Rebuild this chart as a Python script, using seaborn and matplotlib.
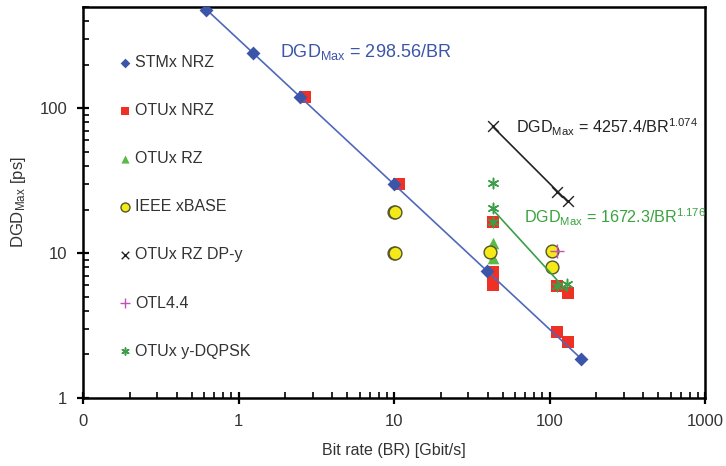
import numpy as np
import pandas as pd
import matplotlib
matplotlib.use("Agg")
import matplotlib.pyplot as plt
import seaborn as sns
from matplotlib.ticker import FixedLocator, FixedFormatter, LogLocator, NullFormatter

sns.set_theme(style="white")
plt.rcParams['font.family'] = ['Liberation Sans', 'DejaVu Sans']
plt.rcParams['mathtext.fontset'] = 'custom'
plt.rcParams['mathtext.rm'] = 'Liberation Sans'
plt.rcParams['mathtext.it'] = 'Liberation Sans'

# ---- data (Gbit/s, ps) ----
stm_br = [0.622, 1.244, 2.488, 9.953, 39.81, 160.0]
stm_dgd = [480, 240, 120, 30, 7.5, 1.87]

otu_nrz_br = [2.67, 10.7, 43.0, 43.0, 43.0, 43.0, 111.8, 131.0, 111.8, 131.0]
otu_nrz_dgd = [119, 30, 16.4, 7.4, 6.6, 6.0, 5.9, 5.3, 2.85, 2.43]

otu_rz_br = [43.0, 43.0]
otu_rz_dgd = [11.8, 9.3]

ieee_br = [9.95, 10.15, 9.95, 10.15, 41.25, 103.1, 103.1]
ieee_dgd = [19.2, 19.2, 10.0, 10.0, 10.2, 10.3, 8.0]

dpy_br = [43.0, 111.8, 131.0]
dpy_dgd = [76, 26.4, 22.8]

otl_br = [112.0]
otl_dgd = [10.3]

dqpsk_br = [43.0, 43.0, 43.0, 111.8, 130.0]
dqpsk_dgd = [30.4, 20.4, 16.4, 5.9, 6.1]

# fit coefficients: DGD = a / BR^b over [lo, hi]
fit_stm = (298.56, 1.0, 0.622, 160.0)
fit_dpy = (4257.4, 1.074, 43.0, 131.0)
fit_dqpsk = (1672.3, 1.176, 43.0, 130.0)

xtick_vals = [0.1, 1, 10, 100, 1000]
xtick_labels = ["0", "1", "10", "100", "1000"]
ytick_vals = [1, 10, 100]
ytick_labels = ["1", "10", "100"]

BLUE = "#3b55a8"
RED = "#ee3124"
GREEN = "#5ab947"
YELLOW = "#f4ea1a"
PINK = "#c64fb5"
DGREEN = "#3a9f48"
TXT = "#333333"

fig = plt.figure(figsize=(7.26, 4.66), dpi=100)
ax = fig.add_axes([83/726, 1-398/466, (705-83)/726, (398-7)/466])
ax.set_xscale("log")
ax.set_yscale("log")

def fitline(fit, color):
    a, b, lo, hi = fit
    xs = np.logspace(np.log10(lo), np.log10(hi), 50)
    d = pd.DataFrame({"x": xs, "y": a / xs**b})
    sns.lineplot(data=d, x="x", y="y", color=color, lw=1.2, ax=ax, zorder=4,
                 legend=False, estimator=None)

def scat(xs, ys, label, **kw):
    d = pd.DataFrame({"x": xs, "y": ys})
    sns.scatterplot(data=d, x="x", y="y", label=label, ax=ax, **kw)

scat(otu_nrz_br, otu_nrz_dgd, "OTUx NRZ", marker="s", color=RED, s=80, linewidth=0, zorder=3)
scat(otu_rz_br, otu_rz_dgd, "OTUx RZ", marker="^", color=GREEN, s=70, linewidth=0, zorder=3)
scat(ieee_br, ieee_dgd, "IEEE xBASE", marker="o", color=YELLOW, s=85, edgecolor="#55552a", linewidth=1.0, zorder=3)
scat(dpy_br, dpy_dgd, "OTUx RZ DP-y", marker="x", color="#222222", s=60, linewidth=1.0, zorder=5)
scat(otl_br, otl_dgd, "OTL4.4", marker="+", color=PINK, s=90, linewidth=1.0, zorder=5)
scat(dqpsk_br, dqpsk_dgd, "OTUx y-DQPSK", marker=(6, 2, 0), color=DGREEN, s=55, linewidth=1.1, zorder=5)
fitline(fit_stm, "#5068bb")
fitline(fit_dpy, "#222222")
fitline(fit_dqpsk, DGREEN)
scat(stm_br, stm_dgd, "STMx NRZ", marker="D", color=BLUE, s=50, linewidth=0, zorder=6)

ax.set_xlim(0.1, 1000)
ax.set_ylim(1, 500)
ax.xaxis.set_major_locator(FixedLocator(xtick_vals))
ax.xaxis.set_major_formatter(FixedFormatter(xtick_labels))
ax.yaxis.set_major_locator(FixedLocator(ytick_vals))
ax.yaxis.set_major_formatter(FixedFormatter(ytick_labels))
ax.xaxis.set_minor_locator(LogLocator(base=10, subs=np.arange(2, 10), numticks=20))
ax.yaxis.set_minor_locator(LogLocator(base=10, subs=np.arange(2, 10), numticks=20))
ax.xaxis.set_minor_formatter(NullFormatter())
ax.yaxis.set_minor_formatter(NullFormatter())
ax.tick_params(which="major", direction="inout", length=9, width=1.6, colors="black",
               labelcolor=TXT, labelsize=12, pad=7)
ax.tick_params(which="minor", direction="in", length=4, width=1.2, colors="black")
ax.tick_params(axis="x", which="both", bottom=True, top=False)
ax.tick_params(axis="y", which="both", left=True, right=False)
for sp in ax.spines.values():
    sp.set_visible(True)
    sp.set_color("black")
    sp.set_linewidth(1.8)

ax.set_xlabel("Bit rate (BR) [Gbit/s]", fontsize=11.5, color=TXT, labelpad=10)
ax.set_ylabel(r"DGD$_{\mathrm{Max}}$ [ps]", fontsize=12, color=TXT, labelpad=8)

ax.text(1.85, 243, r"DGD$_{\mathrm{Max}}$ = 298.56/BR", color="#3b55a8", fontsize=13,
        va="center", ha="left")
ax.text(61, 74, r"DGD$_{\mathrm{Max}}$ = 4257.4/BR$^{1.074}$", color="#222222", fontsize=11.6,
        va="center", ha="left")
ax.text(69, 17.7, r"DGD$_{\mathrm{Max}}$ = 1672.3/BR$^{1.176}$", color="#3aa23f", fontsize=11.6,
        va="center", ha="left")

# legend ordered as in the reference
handles, labels = ax.get_legend_handles_labels()
order = ["STMx NRZ", "OTUx NRZ", "OTUx RZ", "IEEE xBASE", "OTUx RZ DP-y", "OTL4.4", "OTUx y-DQPSK"]
hmap = dict(zip(labels, handles))
leg = ax.legend([hmap[l] for l in order], order, loc="upper left",
                bbox_to_anchor=(0.045, 0.893), frameon=False, fontsize=11.5,
                labelspacing=2.07, handletextpad=0.1, handlelength=1.0,
                markerscale=0.7, borderaxespad=0)
for t in leg.get_texts():
    t.set_color(TXT)

fig.savefig("out.png", dpi=100)
